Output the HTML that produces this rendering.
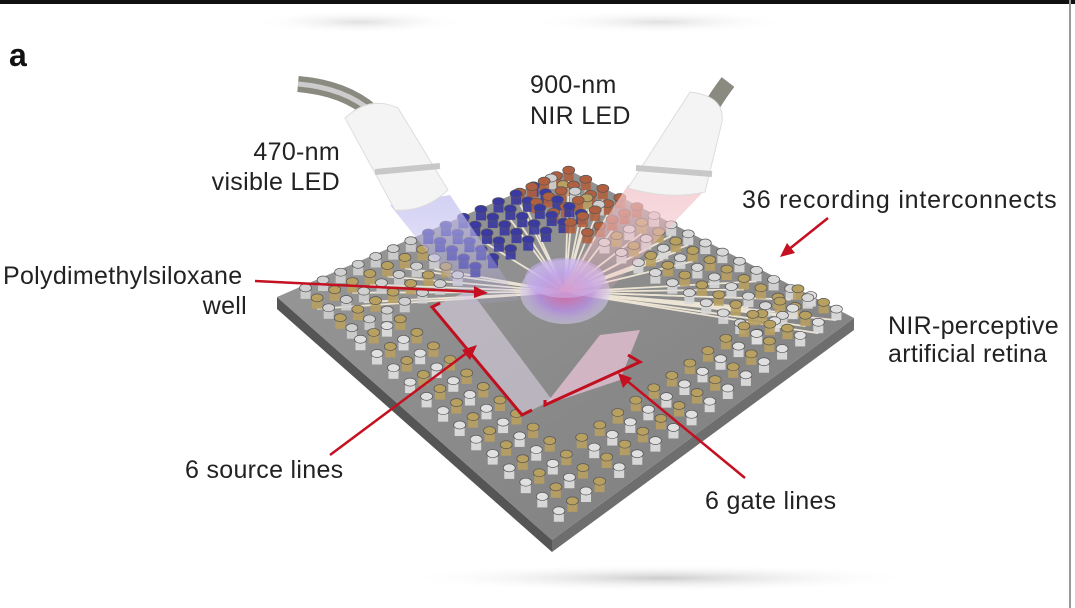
<!DOCTYPE html>
<html><head><meta charset="utf-8">
<style>
html,body{margin:0;padding:0;background:#fff;}
#w{position:relative;width:1075px;height:608px;overflow:hidden;background:#fff;font-family:"Liberation Sans",sans-serif;}
.t{position:absolute;font-size:25px;color:#222;line-height:30px;white-space:nowrap;letter-spacing:0.3px;}
.r{text-align:right;}
</style></head><body>
<div id="w">
<svg id="s" width="1075" height="608" style="position:absolute;left:0;top:0">
<defs>
<radialGradient id="sh" cx="0.5" cy="0.5" r="0.5"><stop offset="0" stop-color="#ccc"/><stop offset="1" stop-color="#fff" stop-opacity="0"/></radialGradient>
<linearGradient id="top" x1="0" y1="0" x2="1" y2="1"><stop offset="0" stop-color="#9a9a9a"/><stop offset="1" stop-color="#7c7c7c"/></linearGradient>
<radialGradient id="well" cx="0.5" cy="0.5" r="0.5"><stop offset="0" stop-color="#e0609a"/><stop offset="0.6" stop-color="#b490e0"/><stop offset="1" stop-color="#d8d0f0" stop-opacity="0.6"/></radialGradient>
<linearGradient id="cb" x1="0" y1="0" x2="0" y2="1"><stop offset="0" stop-color="#c9c6f0" stop-opacity="0.8"/><stop offset="1" stop-color="#b8b0f0" stop-opacity="0.1"/></linearGradient>
<linearGradient id="cr" x1="0" y1="0" x2="0" y2="1"><stop offset="0" stop-color="#f2c8cc" stop-opacity="0.8"/><stop offset="1" stop-color="#f0b0c0" stop-opacity="0.1"/></linearGradient>
</defs>
<rect x="0" y="0" width="1075" height="4" fill="#111"/>
<rect x="1069" y="0" width="2" height="608" fill="#999"/>
<ellipse cx="660" cy="578" rx="260" ry="14" fill="url(#sh)"/>
<ellipse cx="360" cy="22" rx="110" ry="12" fill="url(#sh)" opacity="0.6"/>
<ellipse cx="660" cy="22" rx="130" ry="12" fill="url(#sh)" opacity="0.6"/>
<polygon points="277,297 552,540 552,552 277,309" fill="#555"/>
<polygon points="552,540 854,318 854,330 552,552" fill="#6e6e6e"/>
<polygon points="277,297 569,170 854,318 552,540" fill="url(#top)"/>
<g id="lines"></g>
<g id="pins"></g>
<polygon points="432,307 470,290 552,400 522,415" fill="#d8d0e0" opacity="0.6"/>
<polyline points="440,303 432,307 522,415 532,410" fill="none" stroke="#c01020" stroke-width="3"/>
<polygon points="600,335 640,330 620,380 545,405" fill="#f0c8dc" opacity="0.7"/>
<polyline points="545,400 545,405 640,362 628,355" fill="none" stroke="#c01020" stroke-width="3"/>
<ellipse cx="565" cy="292" rx="45" ry="32" fill="url(#well)" opacity="0.85"/>
<ellipse cx="565" cy="278" rx="40" ry="20" fill="#c8b0ee" opacity="0.6"/>
<polygon points="390,205 450,195 520,300 470,305" fill="url(#cb)"/>
<polygon points="628,185 705,190 600,300 560,290" fill="url(#cr)"/>
<path d="M298,84 Q345,88 372,112" stroke="#8a8a80" stroke-width="16" fill="none"/>
<path d="M298,84 Q345,88 372,112" stroke="#ccc" stroke-width="5" fill="none"/>
<path d="M728,82 Q718,95 708,112" stroke="#8a8a80" stroke-width="16" fill="none"/>
<path d="M345,118 Q370,95 398,108 L448,190 Q425,212 395,210 Z" fill="#f4f4f4" stroke="#ddd"/>
<path d="M375,172 L440,166" stroke="#c8c8c8" stroke-width="6"/>
<path d="M690,92 Q725,96 722,122 L705,192 Q670,200 628,188 Z" fill="#f4f4f4" stroke="#ddd"/>
<path d="M636,168 L712,174" stroke="#c8c8c8" stroke-width="6"/>
<g stroke="#c41020" stroke-width="2.5" fill="#c41020">
<line x1="255" y1="281" x2="478" y2="292"/><polygon points="488,293 474,286 474,298" stroke="none"/>
<line x1="330" y1="455" x2="468" y2="352"/><polygon points="477,345 462,350 470,360" stroke="none"/>
<line x1="745" y1="478" x2="626" y2="380"/><polygon points="618,373 623,388 632,378" stroke="none"/>
<line x1="828" y1="218" x2="788" y2="250"/><polygon points="780,257 795,253 787,243" stroke="none"/>
</g>
</svg>
<div class="t" style="left:9px;top:40px;font-size:32px;font-weight:bold;color:#111">a</div>
<div class="t" style="left:530px;top:70px">900-nm</div>
<div class="t" style="left:530px;top:101px">NIR LED</div>
<div class="t r" style="right:735px;top:137px">470-nm</div>
<div class="t r" style="right:735px;top:167px">visible LED</div>
<div class="t" style="left:742px;top:185px;letter-spacing:0.8px">36 recording interconnects</div>
<div class="t" style="left:3px;top:261px">Polydimethylsiloxane</div>
<div class="t r" style="right:828px;top:291px">well</div>
<div class="t" style="left:888px;top:311px">NIR-perceptive</div>
<div class="t" style="left:888px;top:339px">artificial retina</div>
<div class="t" style="left:185px;top:455px">6 source lines</div>
<div class="t" style="left:705px;top:486px">6 gate lines</div>
</div>
<script>
var L=[277,297],T=[569,170],R=[854,318],B=[552,540];
function P(a,b){return [(1-a)*(1-b)*L[0]+a*(1-b)*T[0]+(1-a)*b*B[0]+a*b*R[0],(1-a)*(1-b)*L[1]+a*(1-b)*T[1]+(1-a)*b*B[1]+a*b*R[1]];}
var ns="http://www.w3.org/2000/svg",pg=document.getElementById("pins"),lg=document.getElementById("lines");
var pins=[];
function add(a,b,c){pins.push([a,b,c]);}
for(var i=0;i<15;i++)for(var r=0;r<5;r++){var a=0.06+i*0.06,b=0.04+r*0.042;
 var c=(a>0.45&&a<0.88)?"#3a3aa0":(r%2?"#b8a060":"#d0d0d0");add(a,b,c);}
for(var i=0;i<15;i++)for(var r=0;r<5;r++){var b=0.04+i*0.06,a=0.96-r*0.042;
 var c=(b<0.3)?"#b06040":(r%2?"#b8a060":"#d8d8d8");add(a,b,c);}
for(var i=0;i<13;i++)for(var r=0;r<4;r++){var b=0.25+i*0.06,a=0.05+r*0.045;add(a,b,r%2?"#b8a060":"#e0e0e0");}
for(var i=0;i<13;i++)for(var r=0;r<4;r++){var a=0.25+i*0.06,b=0.97-r*0.045;add(a,b,r%2?"#b8a060":"#e0e0e0");}
pins.sort(function(x,y){return P(x[0],x[1])[1]-P(y[0],y[1])[1];});
var C=[565,292];
pins.forEach(function(p,k){var q=P(p[0],p[1]);
 if(k%3==0&&(p[1]<0.15||p[0]>0.85)){var l=document.createElementNS(ns,"line");l.setAttribute("x1",q[0]);l.setAttribute("y1",q[1]);l.setAttribute("x2",C[0]);l.setAttribute("y2",C[1]);l.setAttribute("stroke","#ece4d4");l.setAttribute("stroke-width","1.8");lg.appendChild(l);}
 var r=document.createElementNS(ns,"rect");r.setAttribute("x",q[0]-5);r.setAttribute("y",q[1]-11);r.setAttribute("width",10);r.setAttribute("height",11);r.setAttribute("fill",p[2]);r.setAttribute("opacity","0.9");pg.appendChild(r);
 var e=document.createElementNS(ns,"ellipse");e.setAttribute("cx",q[0]);e.setAttribute("cy",q[1]-11);e.setAttribute("rx",6);e.setAttribute("ry",4);e.setAttribute("fill",p[2]);e.setAttribute("stroke","#555");e.setAttribute("stroke-width","0.7");pg.appendChild(e);});
</script>
</body></html>
